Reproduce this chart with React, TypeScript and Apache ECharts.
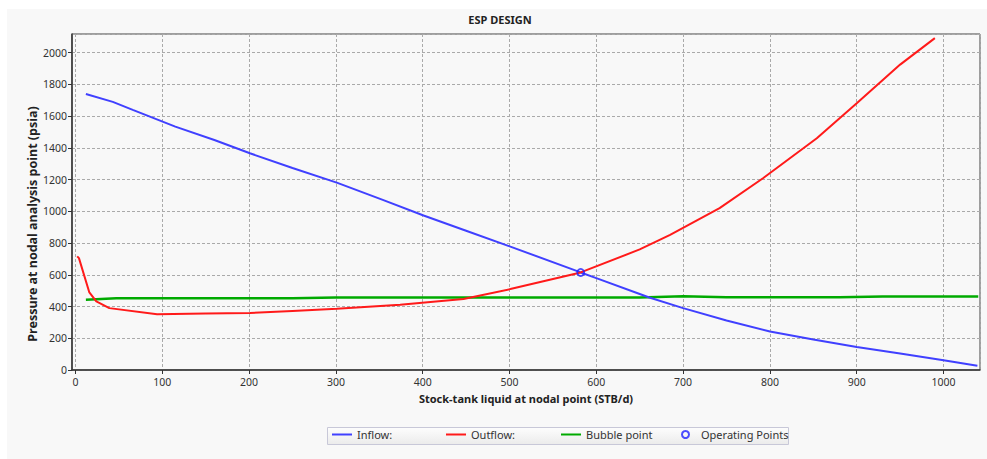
import React, { useEffect, useRef } from "react";
import * as echarts from "echarts";

// ---- data ----
const inflowQ = [12, 43, 66, 115, 160, 201, 250, 301, 354, 401, 450, 501, 582, 600, 650, 661, 700, 750, 800, 850, 900, 950, 1000, 1039];
const inflowP = [1740, 1690, 1640, 1534, 1450, 1366, 1273, 1181, 1072, 974, 878, 778, 615, 579, 479, 457, 390, 312, 243, 192, 145, 104, 61, 27];

const outflowQ = [2, 4, 16, 24, 39, 94, 150, 201, 250, 301, 374, 447, 501, 582, 650, 685, 742, 792, 854, 900, 950, 990];
const outflowP = [716, 705, 489, 432, 390, 352, 356, 359, 372, 386, 412, 447, 510, 615, 760, 852, 1020, 1209, 1461, 1681, 1925, 2092];

const bubbleQ = [12, 47, 250, 300, 650, 700, 750, 880, 930, 1040];
const bubbleP = [443, 453, 453, 457, 457, 465, 458, 458, 463, 463];

const opQ = [582];
const opP = [615];

const xTitle = "Stock-tank liquid at nodal point (STB/d)";
const yTitle = "Pressure at nodal analysis point (psia)";
const chartTitle = "ESP DESIGN";

const seriesNames = ["Inflow:", "Outflow:", "Bubble point", "Operating Points"];

const zip = (a: number[], b: number[]) => a.map((v, i) => [v, b[i]]);

const FONT = "'Noto Sans', 'DejaVu Sans', sans-serif";

export default function App() {
  const ref = useRef<HTMLDivElement>(null);
  useEffect(() => {
    document.body.style.margin = "0";
    const chart = echarts.init(ref.current!, null, { renderer: "svg" });
    const legendBase = {
      top: 429,
      padding: 0,
      itemWidth: 20,
      itemHeight: 2,
      icon: "rect",
      selectedMode: false,
      textStyle: { fontFamily: FONT, fontSize: 11, color: "#333" },
    };
    chart.setOption({
      animation: false,
      backgroundColor: "#ffffff",
      textStyle: { fontFamily: FONT },
      grid: {
        left: 72,
        right: 7,
        top: 34,
        bottom: 89,
        show: true,
        borderColor: "#444",
        borderWidth: 1,
        backgroundColor: "transparent",
      },
      graphic: [
        { type: "rect", z: -100, shape: { x: 7, y: 9, width: 980, height: 450 }, style: { fill: "#f8f8f8" } },
        {
          type: "rect",
          z: -50,
          shape: { x: 327.5, y: 427.5, width: 461, height: 17 },
          style: {
            fill: new echarts.graphic.LinearGradient(0, 0, 0, 1, [
              { offset: 0, color: "#fdfdfd" },
              { offset: 1, color: "#ebebeb" },
            ]),
            stroke: "#c8c8d8",
            lineWidth: 1,
          },
        },
        {
          type: "text",
          x: 500,
          y: 19,
          style: { text: chartTitle, align: "center", verticalAlign: "middle", font: `bold 11px ${FONT}`, fill: "#222" },
        },
        {
          type: "text",
          x: 526,
          y: 398,
          style: { text: xTitle, align: "center", verticalAlign: "middle", font: `bold 11px ${FONT}`, fill: "#222" },
        },
        {
          type: "text",
          x: 32,
          y: 224,
          rotation: Math.PI / 2,
          style: { text: yTitle, align: "center", verticalAlign: "middle", font: `bold 12.5px ${FONT}`, fill: "#222" },
        },
      ],
      legend: [
        { ...legendBase, left: 332, data: [{ name: seriesNames[0] }] },
        { ...legendBase, left: 446, data: [{ name: seriesNames[1] }] },
        { ...legendBase, left: 561, data: [{ name: seriesNames[2] }] },
        {
          ...legendBase,
          left: 681,
          itemWidth: 7,
          itemHeight: 7,
          data: [
            {
              name: seriesNames[3],
              icon: "circle",
              itemStyle: { color: "rgba(0,0,0,0)", borderColor: "#2020ff", borderWidth: 2 },
            },
          ],
          textStyle: { ...legendBase.textStyle, padding: [0, 0, 0, 7] },
        },
      ],
      xAxis: {
        type: "value",
        min: -4,
        max: 1042,
        splitNumber: 10,
        axisLine: { show: true, onZero: false, lineStyle: { color: "#333", width: 1.5 } },
        axisTick: { show: true, length: 4, lineStyle: { color: "#333" } },
        axisLabel: {
          showMinLabel: false,
          showMaxLabel: false,
          fontFamily: FONT,
          fontSize: 10.5,
          color: "#333",
          margin: 6,
          formatter: (v: number) => String(v),
        },
        splitLine: { show: true, lineStyle: { color: "#aaa", type: [3, 2], width: 1 } },
      },
      yAxis: {
        type: "value",
        min: 0,
        max: 2118,
        interval: 200,
        axisLine: { show: true, onZero: false, lineStyle: { color: "#333", width: 1.5 } },
        axisTick: { show: true, length: 4, lineStyle: { color: "#333" } },
        axisLabel: {
          showMaxLabel: false,
          fontFamily: FONT,
          fontSize: 10.5,
          color: "#333",
          margin: 5,
          formatter: (v: number) => String(v),
        },
        splitLine: { show: true, lineStyle: { color: "#aaa", type: [3, 2], width: 1 } },
      },
      series: [
        {
          name: seriesNames[0],
          type: "line",
          data: zip(inflowQ, inflowP),
          showSymbol: false,
          symbol: "none",
          lineStyle: { color: "#4040ff", width: 2 },
          itemStyle: { color: "#4040ff" },
          z: 3,
        },
        {
          name: seriesNames[1],
          type: "line",
          data: zip(outflowQ, outflowP),
          showSymbol: false,
          symbol: "none",
          lineStyle: { color: "#ff1a1a", width: 2 },
          itemStyle: { color: "#ff1a1a" },
          z: 3,
        },
        {
          name: seriesNames[2],
          type: "line",
          data: zip(bubbleQ, bubbleP),
          showSymbol: false,
          symbol: "none",
          lineStyle: { color: "#00aa00", width: 2.5 },
          itemStyle: { color: "#00aa00" },
          z: 2,
        },
        {
          name: seriesNames[3],
          type: "scatter",
          data: zip(opQ, opP),
          symbol: "circle",
          symbolSize: 7,
          itemStyle: { color: "rgba(0,0,0,0)", borderColor: "#2020ff", borderWidth: 1.8 },
          z: 5,
        },
      ],
    });
    return () => chart.dispose();
  }, []);
  return <div ref={ref} style={{ position: "fixed", left: 0, top: 0, width: 987, height: 459 }} />;
}
